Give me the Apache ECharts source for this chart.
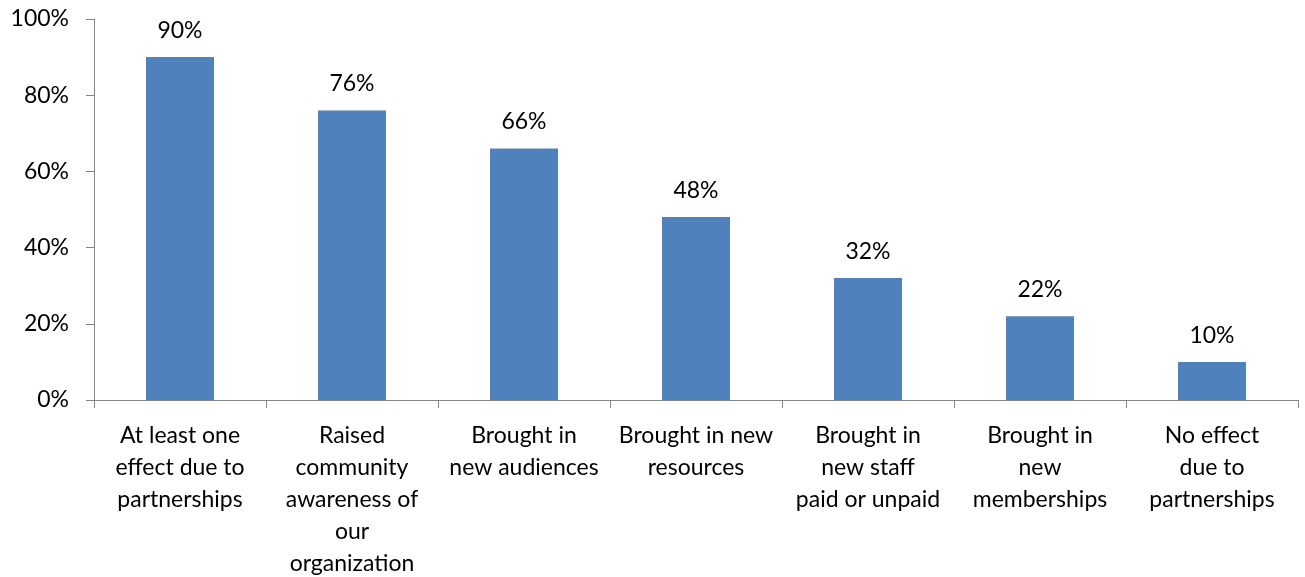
<!DOCTYPE html>
<html>
<head>
<meta charset="utf-8">
<script src="https://cdn.jsdelivr.net/npm/echarts@6/dist/echarts.min.js"></script>
<style>
  html, body { margin: 0; padding: 0; background: #fff; }
  #chart { width: 1305px; height: 577px; }
</style>
</head>
<body>
<div id="chart"></div>
<script>
// Effects of partnerships (share of respondents)
const categories = [
  'At least one\neffect due to\npartnerships',
  'Raised\ncommunity\nawareness of\nour\norganization',
  'Brought in\nnew audiences',
  'Brought in new\nresources',
  'Brought in\nnew staff\npaid or unpaid',
  'Brought in\nnew\nmemberships',
  'No effect\ndue to\npartnerships'
];
const values = [90, 76, 66, 48, 32, 22, 10];
const yTicks = [0, 20, 40, 60, 80, 100];

const FONT = 'Lato, "Open Sans", sans-serif';
const AXIS_COLOR = '#868686';

const chart = echarts.init(document.getElementById('chart'), null, { renderer: 'canvas' });
chart.setOption({
  animation: false,
  grid: {
    left: 94, right: 7, top: 19, bottom: 177,
    containLabel: false,
    outerBoundsMode: 'none'
  },
  xAxis: {
    type: 'category',
    data: categories,
    axisLine: { lineStyle: { color: AXIS_COLOR, width: 1 } },
    axisTick: { show: true, length: 8, alignWithLabel: false, lineStyle: { color: AXIS_COLOR } },
    axisLabel: {
      interval: 0,
      margin: 20,
      color: '#000',
      fontFamily: FONT,
      fontSize: 23,
      lineHeight: 32,
      align: 'center'
    },
    splitLine: { show: false }
  },
  yAxis: {
    type: 'value',
    min: yTicks[0],
    max: yTicks[yTicks.length - 1],
    interval: 20,
    axisLine: { show: true, lineStyle: { color: AXIS_COLOR, width: 1 } },
    axisTick: { show: true, length: 8, lineStyle: { color: AXIS_COLOR } },
    axisLabel: {
      margin: 25,
      color: '#000',
      fontFamily: FONT,
      fontSize: 23,
      formatter: v => v + '%'
    },
    splitLine: { show: false }
  },
  series: [{
    type: 'bar',
    data: values,
    barWidth: 68,
    itemStyle: { color: '#4F81BD' },
    label: {
      show: true,
      position: 'top',
      distance: 15,
      color: '#000',
      fontFamily: FONT,
      fontSize: 23,
      formatter: p => p.value + '%'
    }
  }]
});
</script>
</body>
</html>
